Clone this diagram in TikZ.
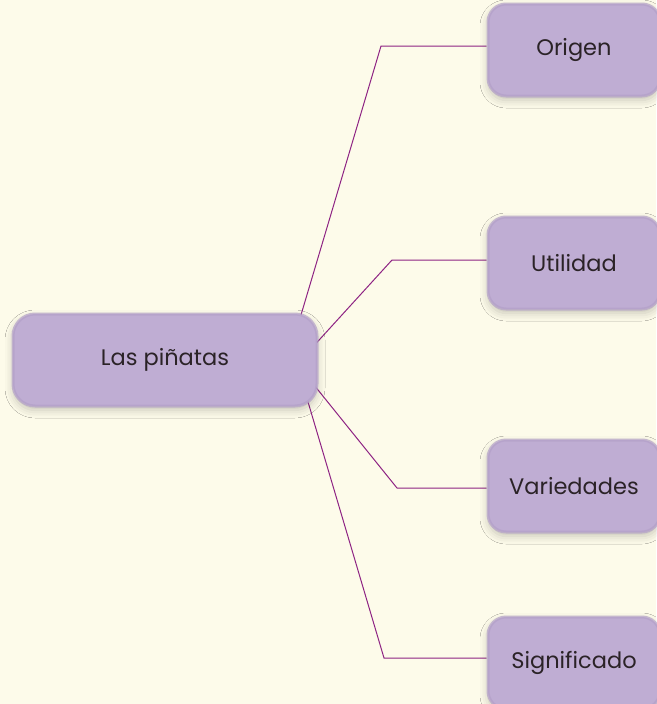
\documentclass[tikz,border=0pt]{standalone}
\usepackage{fontspec}
\setmainfont{Poppins}
\usetikzlibrary{positioning,shadows.blur,backgrounds}
\definecolor{cream}{HTML}{FDFBEA}
\definecolor{lila}{HTML}{BFADD3}
\definecolor{lilaedge}{HTML}{B3A0C8}
\definecolor{branch}{HTML}{8E2383}
\definecolor{ink}{HTML}{2B2327}
\tikzstyle{topic}=[rectangle,rounded corners=22pt,fill=lila,draw=lilaedge,draw opacity=0.7,line width=3pt,
text=ink,font=\fontsize{22.5}{27}\selectfont,minimum width=304pt,minimum height=92pt,
blur shadow={shadow xshift=0pt,shadow yshift=-4pt,shadow blur radius=8pt,shadow opacity=22}]
\tikzstyle{subtopic}=[topic,minimum width=172pt,rounded corners=18pt]
\tikzstyle{branchline}=[draw=branch,line width=1pt]

\begin{document}
\begin{tikzpicture}[x=1pt,y=-1pt]
            \useasboundingbox (0,0) rectangle (656,704);

            % TOPIC AND SUBTOPICS

            \node[topic] (main) at (165,360) {Las piñatas};
            \node[subtopic] (orig) at (574,50) {Origen};
            \node[subtopic,below=118pt of orig] (util) {Utilidad};
            \node[subtopic,below=128pt of util] (vari) {Variedades};
            \node[subtopic,below=82pt of vari] (sign) {Significado};

            % BRANCHES

            \coordinate (s1) at (298,325);
            \coordinate (s2) at (310,350);
            \coordinate (s3) at (310,380);
            \coordinate (s4) at (303,385);
            \coordinate (k1) at (381,46);
            \coordinate (k2) at (392,260);
            \coordinate (k3) at (397,488);
            \coordinate (k4) at (384,658);

            \begin{scope}[on background layer]
            \fill[cream] (0,0) rectangle (656,704);
            \path[branchline] (s1) -- (k1) -- (k1 -| orig.west);
            \path[branchline] (s2) -- (k2) -- (k2 -| util.west);
            \path[branchline] (s3) -- (k3) -- (k3 -| vari.west);
            \path[branchline] (s4) -- (k4) -- (k4 -| sign.west);
            \end{scope}

\end{tikzpicture}
\end{document}
